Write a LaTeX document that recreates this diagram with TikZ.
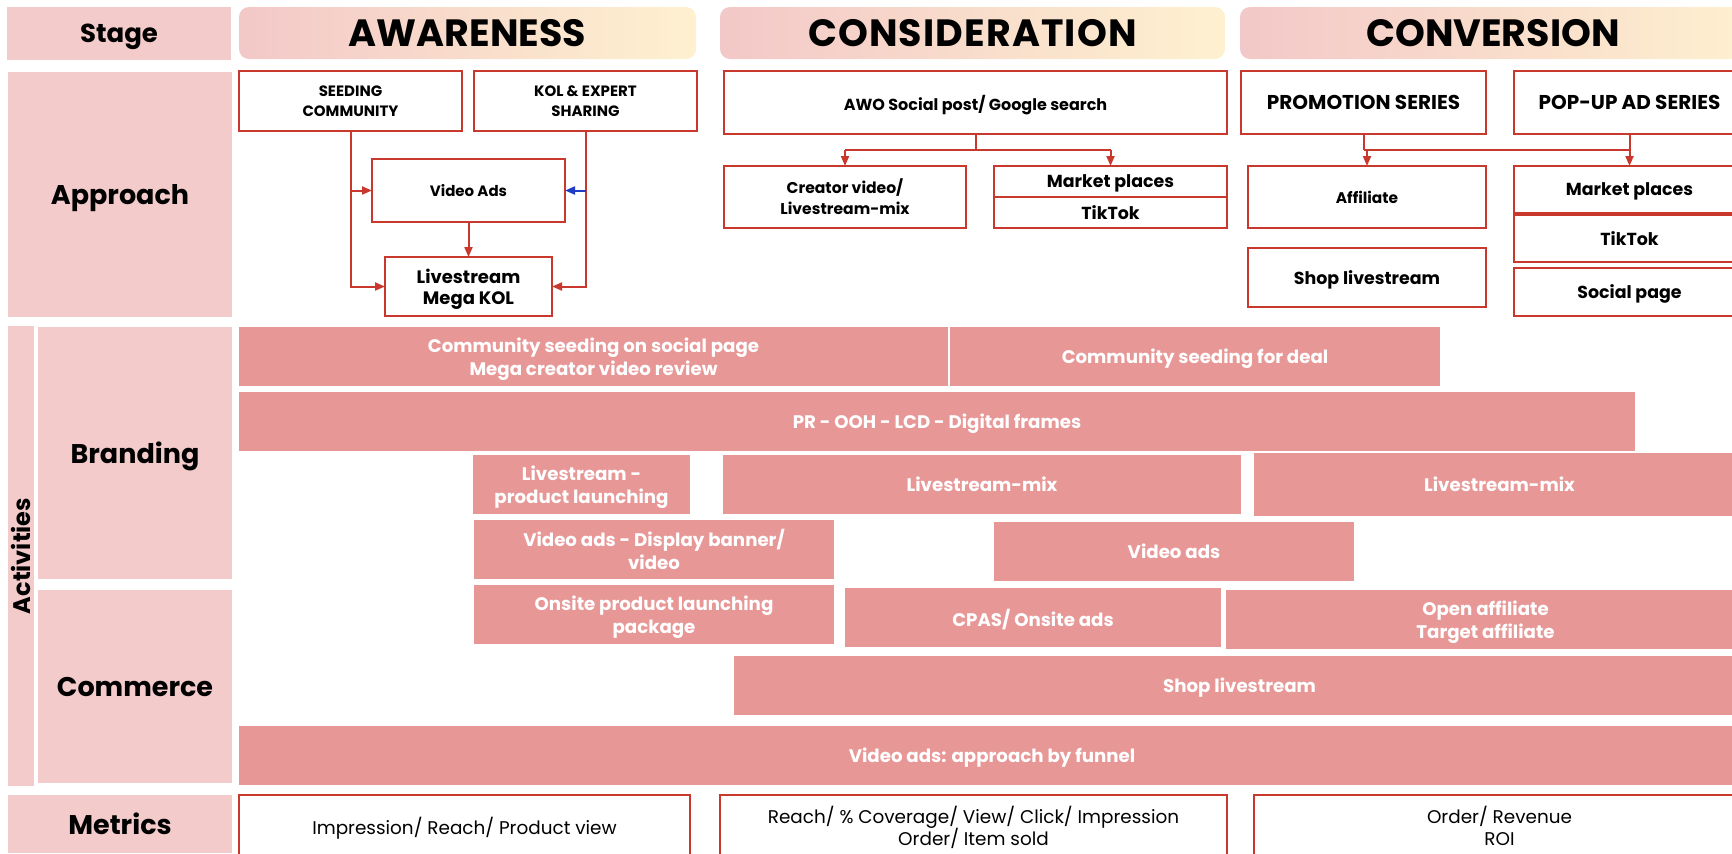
\documentclass[tikz,border=0pt]{standalone}
\usepackage{fontspec}
\setmainfont{Poppins}
\usetikzlibrary{arrows.meta}
\definecolor{labelpink}{HTML}{F3CBCB}
\definecolor{actpink}{HTML}{E89797}
\definecolor{edgered}{HTML}{C8382C}
\definecolor{arrowblue}{HTML}{1F3CC4}
\definecolor{hdrleft}{HTML}{F3C8C8}
\definecolor{hdrright}{HTML}{FEF1CF}
\newcommand\fs[2]{\fontsize{#1}{#2}\selectfont}
\begin{document}
\begin{tikzpicture}[x=0.5pt,y=-0.5pt,
  span/.style n args={4}{minimum width={(#3-#1)*0.5pt}, minimum height={(#4-#2)*0.5pt},
    at={({(#1+#3)/2},{(#2+#4)/2})}, inner sep=0pt, outer sep=0pt, align=center, text depth=0pt},
  label/.style={fill=labelpink, font=\fs{13.5}{16}\bfseries},
  header/.style={rounded corners=5pt, left color=hdrleft, right color=hdrright, font=\fs{19}{22}\bfseries},
  apbox/.style={draw=edgered, line width=1pt, fill=white, font=\fs{8.7}{11}\bfseries},
  act/.style={fill=actpink, text=white, font=\fs{9.1}{11.2}\bfseries},
  metric/.style={draw=edgered, line width=1pt, fill=white, font=\fs{9.2}{11.2}},
  link/.style={draw=edgered, line width=1pt},
  conn/.style={link, -{Triangle[length=5pt,width=4pt]}},
  connblue/.style={draw=arrowblue, line width=1pt, -{Triangle[length=5pt,width=4pt]}, color=arrowblue},
]
\useasboundingbox (0,0) rectangle (1732,853);

% row labels
\node[label, span={7}{7}{231}{60}, font=\fs{13}{15}\bfseries] (lstage) {Stage};
\node[label, span={8}{72}{232}{317}] (lappr) {Approach};
\node[label, span={8}{326}{34}{786}] (lact) {};
\node[rotate=90, font=\fs{12}{14}\bfseries] (lacttext) at (21,556) {Activities};
\node[label, span={38}{327}{232}{579}] (lbrand) {Branding};
\node[label, span={38}{590}{232}{783}] (lcomm) {Commerce};
\node[label, span={8}{795}{232}{853}] (lmetr) {Metrics};

% stage headers
\node[header, span={239}{7}{696}{59}] (haware) {AWARENESS};
\node[header, span={720}{7}{1225}{59}] (hconsid) {\addfontfeatures{LetterSpace=3}CONSIDERATION};
\node[header, span={1240}{7}{1760}{59}] (hconv) {};
\node[font=\fs{19}{22}\bfseries] (hconvtext) at (1493,33) {CONVERSION};

% approach: awareness
\node[apbox, span={239}{71}{462}{131}, font=\fs{7.5}{10}\bfseries] (seed) {SEEDING\\COMMUNITY};
\node[apbox, span={474}{71}{697}{131}, font=\fs{7.5}{10}\bfseries] (kol) {KOL \& EXPERT\\SHARING};
\node[apbox, span={372}{159}{565}{222}, font=\fs{7.5}{10}\bfseries] (vads) {Video Ads};
\node[apbox, span={385}{257}{552}{316}, font=\fs{9}{10.5}\bfseries] (lmk) {Livestream\\Mega KOL};

\draw[conn] (seed.south) -- (seed.south |- lmk.west) -- (lmk.west);
\draw[conn] (seed.south |- vads.west) -- (vads.west);
\draw[conn] (kol.south) -- (kol.south |- lmk.east) -- (lmk.east);
\draw[connblue] (kol.south |- vads.east) -- (vads.east);
\draw[conn] (vads.south) -- (lmk.north);

% approach: consideration
\node[apbox, span={724}{71}{1227}{134}, font=\fs{8}{10}\bfseries] (awo) {AWO Social post/ Google search};
\node[apbox, span={724}{166}{966}{228}, font=\fs{7.8}{10.5}\bfseries] (creator) {Creator video/\\Livestream-mix};
\node[apbox, span={994}{166}{1227}{197}] (mpa) {Market places};
\node[apbox, span={994}{197}{1227}{228}] (tta) {TikTok};

\coordinate (bus) at (0,150);
\draw[link] (awo.south) -- (awo.south |- bus);
\draw[link] (creator.north |- bus) -- (mpa.north |- bus);
\draw[conn] (creator.north |- bus) -- (creator.north);
\draw[conn] (mpa.north |- bus) -- (mpa.north);

% approach: conversion
\node[apbox, span={1241}{71}{1486}{134}, font=\fs{10}{12}\bfseries] (promo) {PROMOTION SERIES};
\node[apbox, span={1514}{71}{1745}{134}, font=\fs{10}{12}\bfseries] (popup) {POP-UP AD SERIES};
\node[apbox, span={1248}{166}{1486}{228}, font=\fs{7.7}{9}\bfseries] (aff) {Affiliate};
\node[apbox, span={1248}{248}{1486}{307}] (shopa) {Shop livestream};
\node[apbox, span={1514}{166}{1745}{213}] (mpb) {Market places};
\node[apbox, span={1514}{215}{1745}{262}] (ttb) {TikTok};
\node[apbox, span={1514}{268}{1745}{316}] (social) {Social page};

\draw[link] (promo.south) -- (promo.south |- bus);
\draw[link] (popup.south) -- (popup.south |- bus);
\draw[link] (promo.south |- bus) -- (popup.south |- bus);
\draw[conn] (aff.north |- bus) -- (aff.north);
\draw[conn] (popup.south |- bus) -- (mpb.north);

% activities
\node[act, span={239}{327}{948}{386}] (a1) {Community seeding on social page\\Mega creator video review};
\node[act, span={950}{327}{1440}{386}] (a2) {Community seeding for deal};
\node[act, span={239}{392}{1635}{451}] (a3) {PR - OOH - LCD - Digital frames};
\node[act, span={473}{455}{690}{514}] (a4) {Livestream -\\product launching};
\node[act, span={723}{455}{1241}{514}] (a5) {Livestream-mix};
\node[act, span={1254}{453}{1745}{516}] (a6) {Livestream-mix};
\node[act, span={474}{520}{834}{579}] (a7) {Video ads - Display banner/\\video};
\node[act, span={994}{522}{1354}{581}] (a8) {Video ads};
\node[act, span={474}{585}{834}{644}] (a9) {Onsite product launching\\package};
\node[act, span={845}{588}{1221}{647}] (a10) {CPAS/ Onsite ads};
\node[act, span={1226}{590}{1745}{649}] (a11) {Open affiliate\\Target affiliate};
\node[act, span={734}{656}{1745}{715}] (a12) {Shop livestream};
\node[act, span={239}{726}{1745}{785}] (a13) {Video ads: approach by funnel};

% metrics
\node[metric, span={239}{795}{690}{857}] (m1) {Impression/ Reach/ Product view};
\node[metric, span={720}{795}{1227}{857}] (m2) {Reach/ \% Coverage/ View/ Click/ Impression\\Order/ Item sold};
\node[metric, span={1254}{795}{1745}{857}] (m3) {Order/ Revenue\\ROI};
\end{tikzpicture}
\end{document}
